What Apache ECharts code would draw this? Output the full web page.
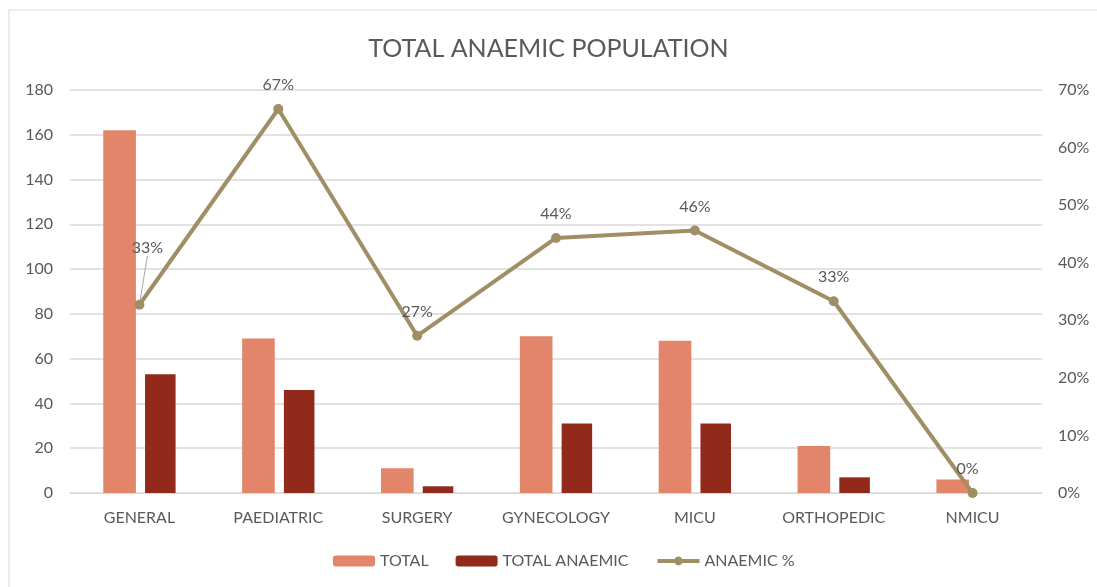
<!DOCTYPE html>
<html>
<head>
<meta charset="utf-8">
<title>Total Anaemic Population</title>
<script src="https://cdn.jsdelivr.net/npm/echarts@6/dist/echarts.min.js"></script>
<style>
  html, body { margin: 0; padding: 0; background: #fff; }
  #chart { width: 1097px; height: 587px; }
</style>
</head>
<body>
<div id="chart"></div>
<script>
const departments = ['GENERAL', 'PAEDIATRIC', 'SURGERY', 'GYNECOLOGY', 'MICU', 'ORTHOPEDIC', 'NMICU']
const totalPatients = [162, 69, 11, 70, 68, 21, 6]
const totalAnaemic = [53, 46, 3, 31, 31, 7, 0]
const anaemicPercent = [32.7, 66.7, 27.3, 44.3, 45.6, 33.3, 0]

const textGray = '#595959'
const font = 'Lato, "Open Sans", sans-serif'

const chart = echarts.init(document.getElementById('chart'))

// only the first label is pulled away from its point, with a guide line
const percentData = anaemicPercent.map((v, i) => i === 0 ? { value: v, labelLine: { show: true } } : v)

const options = {
  color: ['#E2856A', '#922A1C', '#A08E65'],
  textStyle: { fontFamily: font },
  title: {
    text: 'TOTAL ANAEMIC POPULATION',
    left: 'center',
    top: 31,
    textStyle: { color: textGray, fontSize: 25, fontWeight: 'normal', fontFamily: font }
  },
  graphic: [{
    type: 'rect',
    shape: { x: 9, y: 10, width: 1200, height: 700 },
    style: { fill: 'none', stroke: '#D9D9D9', lineWidth: 1 },
    silent: true
  }],
  legend: {
    bottom: 13,
    left: 328,
    itemWidth: 42,
    itemHeight: 11,
    itemGap: 27,
    lineStyle: { width: 4 },
    textStyle: { color: textGray, fontSize: 16, fontFamily: font },
    data: ['TOTAL', 'TOTAL ANAEMIC', 'ANAEMIC %']
  },
  grid: { left: 70, right: 55, top: 90, bottom: 94 },
  xAxis: {
    type: 'category',
    data: departments,
    axisLine: { lineStyle: { color: '#D9D9D9' } },
    axisTick: { show: false },
    axisLabel: { color: textGray, fontSize: 16, margin: 17, interval: 0 }
  },
  yAxis: [
    {
      type: 'value',
      min: 0,
      max: 180,
      interval: 20,
      axisLine: { show: false },
      axisTick: { show: false },
      axisLabel: { color: textGray, fontSize: 16, margin: 17 },
      splitLine: { lineStyle: { color: '#D9D9D9', width: 1.5 } }
    },
    {
      type: 'value',
      min: 0,
      max: 70,
      interval: 10,
      axisLine: { show: false },
      axisTick: { show: false },
      axisLabel: { color: textGray, fontSize: 16, margin: 16, formatter: '{value}%' },
      splitLine: { show: false }
    }
  ],
  series: [
    {
      name: 'TOTAL',
      type: 'bar',
      data: totalPatients,
      barWidth: '23.5%',
      barGap: '28%'
    },
    {
      name: 'TOTAL ANAEMIC',
      type: 'bar',
      data: totalAnaemic,
      barWidth: '22%'
    },
    {
      name: 'ANAEMIC %',
      type: 'line',
      yAxisIndex: 1,
      data: percentData,
      symbol: 'circle',
      symbolSize: 10,
      lineStyle: { width: 4 },
      label: {
        show: true,
        position: 'top',
        distance: 11,
        color: textGray,
        fontSize: 16,
        formatter: p => Math.round(p.value) + '%'
      },
      labelLine: { show: false, lineStyle: { color: '#A6A6A6', width: 1 } },
      labelLayout: p => {
        if (p.dataIndex === 0) return { dx: 8, dy: -33 }
        if (p.dataIndex === 6) return { dx: -5 }
        return {}
      }
    }
  ]
}

chart.setOption(options)
</script>
</body>
</html>
